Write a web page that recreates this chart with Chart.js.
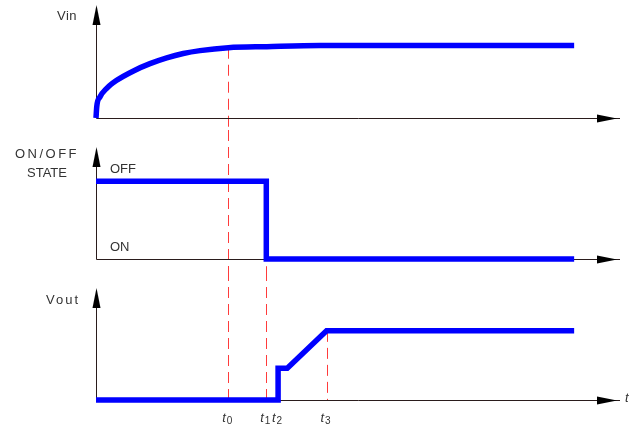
<!DOCTYPE html>
<html>
<head>
<meta charset="utf-8">
<script src="https://cdn.jsdelivr.net/npm/chart.js@4.4.0/dist/chart.umd.min.js"></script>
<style>
  html, body { margin: 0; padding: 0; background: #fff; }
  #wrap { position: relative; width: 636px; height: 434px; overflow: hidden; }
  canvas { position: absolute; left: 0; }
</style>
</head>
<body>
<div id="wrap">
  <canvas id="vinChart" width="636" height="130" style="top:0px"></canvas>
  <canvas id="stateChart" width="636" height="140" style="top:130px"></canvas>
  <canvas id="voutChart" width="636" height="164" style="top:270px"></canvas>
</div>
<script>
// time marks t0..t3 (arbitrary units, axis runs 0..20)
const markTimes = [5.05, 6.5, 6.95, 8.8];
const markSubs = ['0', '1', '2', '3'];

// Vin: charging curve that settles at 1
const vinTimes  = [0, 0.03, 0.15, 0.41, 0.79, 1.43, 2.06, 2.70, 3.33, 3.97, 5.05, 6.52, 8.55, 18.25];
const vinValues = [0, 0.16, 0.29, 0.41, 0.52, 0.65, 0.75, 0.83, 0.89, 0.93, 0.97, 0.985, 1.0, 1.0];

// switch state: 1 = OFF, 0 = ON
const stateTimes  = [0, 6.5, 6.5, 18.25];
const stateValues = [1, 1, 0, 0];

// Vout
const voutTimes  = [0, 6.95, 6.95, 7.3, 8.8, 18.25];
const voutValues = [0, 0, 0.46, 0.46, 1, 1];

const FONT = '"Liberation Sans", Arial, sans-serif';

const diagramPlugin = {
  id: 'diagram',
  beforeDatasetsDraw(chart, args, opts) {
    const { ctx, chartArea: a, scales: { x, y } } = chart;
    ctx.save();

    // dashed red guides
    ctx.strokeStyle = '#ff3b3b';
    ctx.lineWidth = 1;
    ctx.setLineDash([11, 6]);
    (opts.guides || []).forEach(g => {
      const px = Math.round(x.getPixelForValue(g.t)) + 0.5;
      const y0 = g.from === 'top' ? 0 : y.getPixelForValue(g.from);
      const y1 = g.to === 'bottom' ? chart.height : a.bottom;
      ctx.beginPath();
      ctx.moveTo(px, y0);
      ctx.lineTo(px, y1);
      ctx.stroke();
    });

    // axes
    ctx.setLineDash([]);
    ctx.strokeStyle = '#2a1c1c';
    const ax = Math.round(a.left) + 0.5;
    const ay = Math.round(a.bottom) + 0.5;
    ctx.beginPath();
    ctx.moveTo(ax, a.top + 12);
    ctx.lineTo(ax, ay);
    ctx.lineTo(a.right, ay);
    ctx.stroke();

    // arrow heads
    ctx.fillStyle = '#000';
    ctx.beginPath();
    ctx.moveTo(ax, a.top);
    ctx.lineTo(ax + 4, a.top + 20);
    ctx.lineTo(ax - 4, a.top + 20);
    ctx.closePath();
    ctx.fill();
    ctx.beginPath();
    ctx.moveTo(a.right - 3, ay);
    ctx.lineTo(a.right - 23, ay - 4);
    ctx.lineTo(a.right - 23, ay + 4);
    ctx.closePath();
    ctx.fill();
    ctx.restore();
  },
  afterDatasetsDraw(chart, args, opts) {
    const { ctx, chartArea: a, scales: { x, y } } = chart;
    ctx.save();
    ctx.fillStyle = '#333';
    ctx.font = '13px ' + FONT;
    ctx.textBaseline = 'alphabetic';

    // axis titles
    (opts.titles || []).forEach(l => {
      ctx.letterSpacing = (l.spacing || 0) + 'px';
      ctx.textAlign = l.align || 'left';
      ctx.fillText(l.text, a.left + l.dx, a.top + l.dy);
    });
    ctx.letterSpacing = '0px';

    // level names next to the y axis
    ctx.textAlign = 'left';
    (opts.levels || []).forEach(l => {
      ctx.fillText(l.text, a.left + 14, y.getPixelForValue(l.value) - 8);
    });

    // t0..t3 under the axis
    if (opts.ticks) {
      markTimes.forEach((t, i) => {
        const px = x.getPixelForValue(t);
        ctx.font = 'italic 13px ' + FONT;
        ctx.textAlign = 'left';
        ctx.fillText('t', px - 6, a.bottom + 22);
        ctx.font = '10px ' + FONT;
        ctx.fillText(markSubs[i], px - 1.5, a.bottom + 24);
      });
    }
    if (opts.axisName) {
      ctx.font = 'italic 13px ' + FONT;
      ctx.textAlign = 'left';
      ctx.fillText(opts.axisName, a.right + 5, a.bottom + 2);
    }
    ctx.restore();
  }
};

function makeChart(id, times, values, yMax, padding, smooth, diagram) {
  return new Chart(document.getElementById(id), {
    type: 'line',
    data: {
      datasets: [{
        data: times.map((t, i) => ({ x: t, y: values[i] })),
        borderColor: '#0000ff',
        borderWidth: 5.5,
        pointRadius: 0,
        clip: false,
        borderJoinStyle: 'miter',
        cubicInterpolationMode: smooth ? 'monotone' : 'default',
        tension: 0
      }]
    },
    options: {
      responsive: false,
      animation: false,
      events: [],
      layout: { padding },
      scales: {
        x: { type: 'linear', min: 0, max: 20, display: false },
        y: { min: 0, max: yMax, display: false }
      },
      plugins: {
        legend: { display: false },
        tooltip: { enabled: false },
        diagram
      }
    },
    plugins: [diagramPlugin]
  });
}

const vinAtT0 = vinValues[vinTimes.indexOf(markTimes[0])];

makeChart('vinChart', vinTimes, vinValues, 1.56,
  { left: 96, right: 16, top: 5, bottom: 12 }, true, {
    guides: [{ t: markTimes[0], from: vinAtT0, to: 'bottom' }],
    titles: [{ text: 'Vin', dx: -19, dy: 15, align: 'right', spacing: 0.5 }]
  });

makeChart('stateChart', stateTimes, stateValues, 1.44,
  { left: 96, right: 16, top: 17, bottom: 11 }, false, {
    guides: [
      { t: markTimes[0], from: 'top', to: 'bottom' },
      { t: markTimes[1], from: 1, to: 'bottom' }
    ],
    titles: [
      { text: 'ON/OFF', dx: -49, dy: 11, align: 'center', spacing: 2.5 },
      { text: 'STATE', dx: -49, dy: 30, align: 'center', spacing: 0 }
    ],
    levels: [{ text: 'OFF', value: 1 }, { text: 'ON', value: 0 }]
  });

makeChart('voutChart', voutTimes, voutValues, 1.62,
  { left: 96, right: 16, top: 18, bottom: 34 }, false, {
    guides: [
      { t: markTimes[0], from: 'top', to: 'axis' },
      { t: markTimes[1], from: 'top', to: 'axis' },
      { t: markTimes[3], from: 1, to: 'axis' }
    ],
    titles: [{ text: 'Vout', dx: -16, dy: 16, align: 'right', spacing: 2 }],
    ticks: true,
    axisName: 't'
  });
</script>
</body>
</html>
